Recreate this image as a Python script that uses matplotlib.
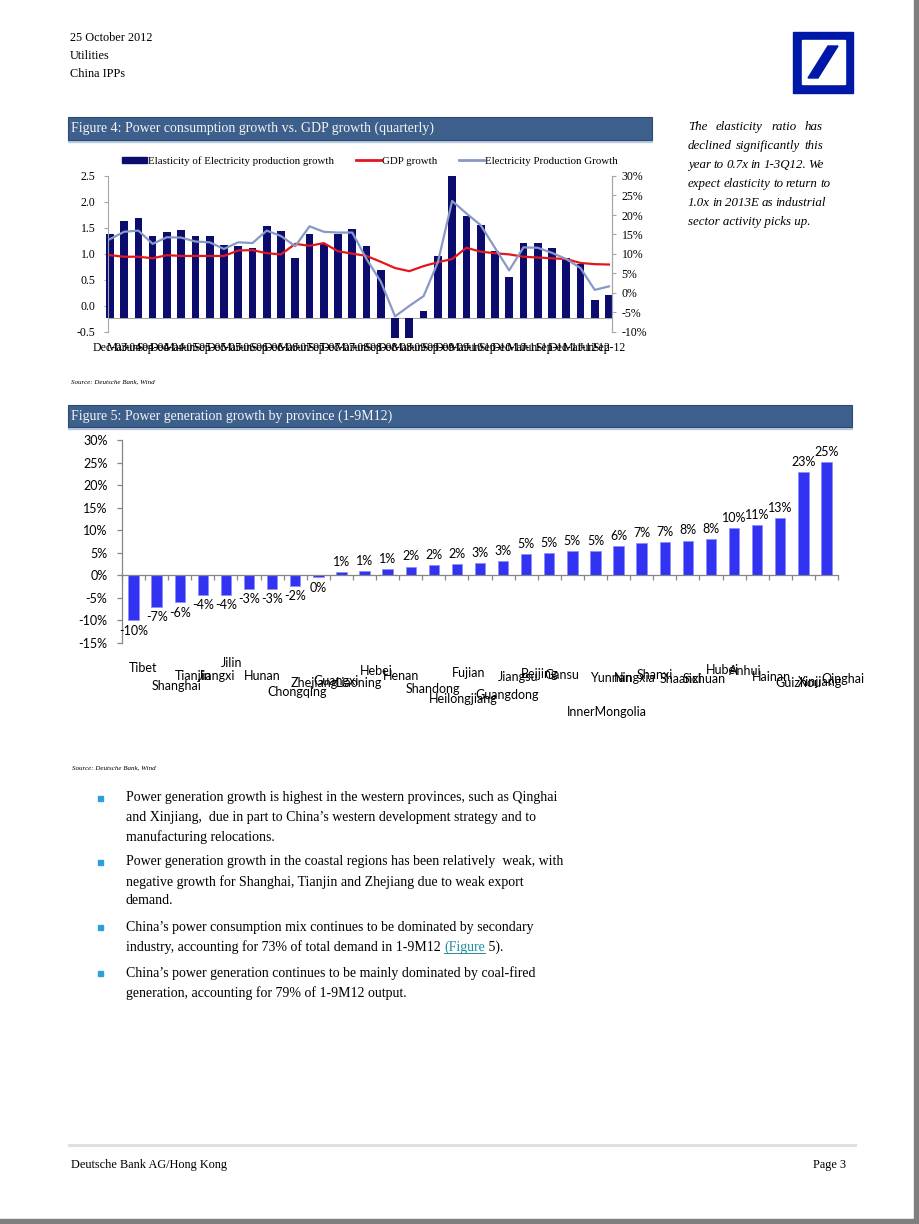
import matplotlib
matplotlib.use('Agg')
import matplotlib.pyplot as plt
from matplotlib.patches import Rectangle, Polygon
from matplotlib.lines import Line2D
import numpy as np

# ---------------- Figure 4 data (quarterly) ----------------
quarters = ['Dec-03', 'Mar-04', 'Jun-04', 'Sep-04', 'Dec-04', 'Mar-05', 'Jun-05', 'Sep-05',
            'Dec-05', 'Mar-06', 'Jun-06', 'Sep-06', 'Dec-06', 'Mar-07', 'Jun-07', 'Sep-07',
            'Dec-07', 'Mar-08', 'Jun-08', 'Sep-08', 'Dec-08', 'Mar-09', 'Jun-09', 'Sep-09',
            'Dec-09', 'Mar-10', 'Jun-10', 'Sep-10', 'Dec-10', 'Mar-11', 'Jun-11', 'Sep-11',
            'Dec-11', 'Mar-12', 'Jun-12', 'Sep-12']
elasticity = [1.39, 1.63, 1.69, 1.34, 1.42, 1.47, 1.35, 1.35, 1.17, 1.15, 1.12, 1.53,
              1.45, 0.92, 1.38, 1.20, 1.39, 1.49, 1.15, 0.70, -0.62, -0.62, -0.10, 0.96,
              2.50, 1.74, 1.56, 1.06, 0.56, 1.22, 1.22, 1.12, 0.92, 0.80, 0.11, 0.22]
gdp_growth = [9.7, 9.3, 9.3, 8.9, 9.7, 9.5, 9.5, 9.5, 9.5, 10.9, 11.0, 10.2,
              9.9, 12.6, 12.1, 12.8, 10.7, 10.1, 9.5, 8.0, 6.4, 5.6, 6.9, 7.9,
              8.7, 11.6, 10.6, 10.2, 9.9, 9.3, 9.1, 8.9, 8.7, 7.7, 7.4, 7.3]
elec_growth = [13.8, 15.7, 16.0, 12.6, 14.3, 14.2, 13.2, 13.0, 11.3, 13.0, 12.8, 16.0,
               14.6, 12.0, 17.1, 15.7, 15.5, 15.5, 8.7, 2.9, -6.0, -3.3, -0.8, 7.9,
               23.6, 20.4, 17.4, 11.6, 5.8, 11.7, 11.6, 10.3, 8.7, 6.4, 0.8, 1.7]
bar_base = -0.24  # where the category axis crosses the left scale

# ---------------- Figure 5 data (1-9M12) ----------------
provinces = ['Tibet', 'Shanghai', 'Tianjin', 'Jiangxi', 'Jilin', 'Hunan', 'Chongqing',
             'Zhejiang', 'Guangxi', 'Liaoning', 'Hebei', 'Henan', 'Shandong', 'Heilongjiang',
             'Fujian', 'Guangdong', 'Jiangsu', 'Beijing', 'Gansu', 'InnerMongolia', 'Yunnan',
             'Ningxia', 'Shanxi', 'Shaanxi', 'Sichuan', 'Hubei', 'Anhui', 'Hainan',
             'Guizhou', 'Xinjiang', 'Qinghai']
gen_growth = [-10.0, -7.0, -6.0, -4.4, -4.4, -3.0, -3.0, -2.4, -0.45, 0.7, 1.0, 1.3,
              1.95, 2.25, 2.45, 2.8, 3.1, 4.65, 5.0, 5.3, 5.45, 6.4, 7.1, 7.4,
              7.7, 8.1, 10.4, 11.1, 12.7, 22.9, 25.1]
# staggered label drop (px below the plot) as Excel laid them out
label_drop = [25, 43, 33, 33, 20, 33, 49, 40, 38, 40, 28, 33, 46, 56, 30, 52, 34, 31,
              32, 69, 35, 35, 32, 36, 36, 27, 28, 34, 40, 39, 36]

header = ['25 October 2012', 'Utilities', 'China IPPs']
sidebar = ['The elasticity ratio has', 'declined significantly this',
           'year to 0.7x in 1-3Q12. We', 'expect elasticity to return to',
           '1.0x in 2013E as industrial', 'sector activity picks up.']
bullets = [
    ['Power generation growth is highest in the western provinces, such as Qinghai',
     'and Xinjiang,  due in part to China\u2019s western development strategy and to',
     'manufacturing relocations.'],
    ['Power generation growth in the coastal regions has been relatively  weak, with',
     'negative growth for Shanghai, Tianjin and Zhejiang due to weak export',
     'demand.'],
    ['China\u2019s power consumption mix continues to be dominated by secondary',
     'industry, accounting for 73% of total demand in 1-9M12 '],
    ['China\u2019s power generation continues to be mainly dominated by coal-fired',
     'generation, accounting for 79% of 1-9M12 output.'],
]

W, H = 920, 1224
SERIF = 'Liberation Serif'
SANS = 'Lato'


def fx(x):
    return x / W


def fy(y):
    return 1 - y / H


def box(x0, y0, x1, y1):
    return [fx(x0), fy(y1), fx(x1) - fx(x0), fy(y0) - fy(y1)]


fig = plt.figure(figsize=(9.2, 12.24), dpi=100, facecolor='white')
renderer = fig.canvas.get_renderer()

# page frame shadow
fig.patches.append(Rectangle((fx(914), 0), 1 - fx(914), 1, transform=fig.transFigure,
                             color='#7f7f7f', zorder=0))
fig.patches.append(Rectangle((0, 0), 1, fy(1219), transform=fig.transFigure,
                             color='#7f7f7f', zorder=0))

# header
for i, t in enumerate(header):
    fig.text(fx(70), fy(38 + 18 * i), t, family=SERIF, fontsize=8.8, va='center')

# logo
fig.patches.append(Rectangle((fx(793), fy(93)), fx(60), fy(32) - fy(93),
                             transform=fig.transFigure, color='#0018a8'))
fig.patches.append(Rectangle((fx(802), fy(84)), fx(43), fy(40) - fy(84),
                             transform=fig.transFigure, color='white'))
fig.patches.append(Polygon([(fx(808), fy(78)), (fx(818), fy(78)), (fx(838), fy(46)),
                            (fx(828), fy(46))], closed=True, transform=fig.transFigure,
                           color='#0018a8'))


def title_bar(x0, y0, x1, y1, text):
    fig.patches.append(Rectangle((fx(x0), fy(y1 + 2)), fx(x1) - fx(x0), fy(y1) - fy(y1 + 2),
                                 transform=fig.transFigure, color='#b9c9df'))
    fig.patches.append(Rectangle((fx(x0), fy(y1)), fx(x1) - fx(x0), fy(y0) - fy(y1),
                                 transform=fig.transFigure, facecolor='#3d5f8c',
                                 edgecolor='#2c4a72', lw=0.8))
    fig.text(fx(x0 + 3), fy((y0 + y1) / 2), text, family=SERIF, fontsize=10,
             color='#f4f4f4', va='center')


# ---------------- Figure 4 ----------------
title_bar(68, 117, 652, 140, 'Figure 4: Power consumption growth vs. GDP growth (quarterly)')

ax4 = fig.add_axes(box(108, 176, 612, 332))
ax4.patch.set_alpha(0)
x4 = np.arange(len(quarters))
ax4.bar(x4, np.array(elasticity) - bar_base, bottom=bar_base, width=0.54,
        color='#0c0c6e', clip_on=False, zorder=2)
ax4.axhline(bar_base, color='#a6a6a6', lw=0.8, zorder=1)
ax4.set_ylim(-0.5, 2.5)
ax4.set_xlim(-0.13, len(quarters) - 0.79)
ax4.set_yticks(np.arange(-0.5, 2.51, 0.5))
ax4.set_yticklabels([f'{v:.1f}' for v in np.arange(-0.5, 2.51, 0.5)])
ax4.set_xticks(x4)
ax4.set_xticklabels(quarters)
for s in ['top', 'bottom']:
    ax4.spines[s].set_visible(False)
for s in ['left', 'right']:
    ax4.spines[s].set_color('#a6a6a6')
    ax4.spines[s].set_linewidth(0.8)
ax4.tick_params(axis='y', length=3, color='#a6a6a6', pad=6, labelsize=8.5)
ax4.tick_params(axis='x', length=0, pad=7, labelsize=8.5)
for lab in ax4.get_xticklabels() + ax4.get_yticklabels():
    lab.set_family(SERIF)

ax4r = ax4.twinx()
ax4r.patch.set_alpha(0)
ax4r.plot(x4, gdp_growth, color='#e2171d', lw=1.6, zorder=3)
ax4r.plot(x4, elec_growth, color='#8898c8', lw=1.6, zorder=3)
ax4r.set_ylim(-10, 30)
ax4r.set_yticks(range(-10, 31, 5))
ax4r.set_yticklabels([f'{v}%' for v in range(-10, 31, 5)])
for s in ['top', 'bottom', 'left']:
    ax4r.spines[s].set_visible(False)
ax4r.spines['right'].set_color('#a6a6a6')
ax4r.spines['right'].set_linewidth(0.8)
ax4r.tick_params(axis='y', length=3, color='#a6a6a6', pad=4, labelsize=8.5)
for lab in ax4r.get_yticklabels():
    lab.set_family(SERIF)

handles = [Rectangle((0, 0), 1, 1, color='#0c0c6e'),
           Line2D([], [], color='#e2171d', lw=2),
           Line2D([], [], color='#8898c8', lw=2)]
ax4.legend(handles, ['Elasticity of Electricity production growth', 'GDP growth',
                     'Electricity Production Growth'],
           loc='center', bbox_to_anchor=(0.52, 1.096), ncol=3, frameon=False,
           prop={'family': SERIF, 'size': 7.8}, handlelength=2.3, handleheight=0.6,
           handletextpad=0.1, columnspacing=2.0, borderaxespad=0)

fig.text(fx(71), fy(382), 'Source: Deutsche Bank, Wind', family=SERIF, style='italic',
         fontsize=5, va='center')

# ---------------- Figure 5 ----------------
title_bar(68, 405, 852, 427, 'Figure 5: Power generation growth by province (1-9M12)')

ax5 = fig.add_axes(box(122, 440, 838, 643))
ax5.patch.set_alpha(0)
x5 = np.arange(len(provinces))
ax5.bar(x5, gen_growth, width=0.45, color='#3232f2', edgecolor='#8c8cff', lw=0.5, zorder=2)
ax5.set_ylim(-15, 30)
ax5.set_xlim(-0.5, len(provinces) - 0.5)
ax5.set_yticks(range(-15, 31, 5))
ax5.set_yticklabels([f'{v}%' for v in range(-15, 31, 5)])
ax5.set_xticks(np.arange(-0.5, len(provinces), 1))
ax5.set_xticklabels([])
ax5.spines['top'].set_visible(False)
ax5.spines['right'].set_visible(False)
ax5.spines['bottom'].set_position(('data', 0))
for s in ['left', 'bottom']:
    ax5.spines[s].set_color('#868686')
    ax5.spines[s].set_linewidth(0.9)
ax5.tick_params(axis='both', length=3.5, color='#868686', width=0.9)
ax5.tick_params(axis='y', pad=7, labelsize=9)
for lab in ax5.get_yticklabels():
    lab.set_family(SANS)

for i, v in enumerate(gen_growth):
    ax5.annotate(f'{int(round(v))}%', xy=(i, v), xytext=(0, 3 if v >= 0 else -3),
                 textcoords='offset points', ha='center',
                 va='bottom' if v >= 0 else 'top', family=SANS, fontsize=9)
for i, name in enumerate(provinces):
    ax5.annotate(name, xy=(i - 0.22, 0), xycoords=('data', 'axes fraction'),
                 xytext=(0, -label_drop[i] * 0.72), textcoords='offset points',
                 ha='left', va='center', family=SANS, fontsize=9)

fig.text(fx(72), fy(768), 'Source: Deutsche Bank, Wind', family=SERIF, style='italic',
         fontsize=5, va='center')

# ---------------- sidebar (justified) ----------------
side_x0, side_x1 = 688, 823
for i, t in enumerate(sidebar):
    y = fy(127 + 19 * i)
    words = t.split()
    if i == len(sidebar) - 1:
        fig.text(fx(side_x0), y, t, family=SERIF, style='italic', fontsize=9.3, va='center')
        continue
    arts = [fig.text(0, y, w, family=SERIF, style='italic', fontsize=9.3, va='center')
            for w in words]
    widths = [a.get_window_extent(renderer=renderer).width for a in arts]
    gap = max(2.5, (side_x1 - side_x0 - sum(widths)) / (len(words) - 1))
    pos = side_x0
    for a, wd in zip(arts, widths):
        a.set_x(fx(pos))
        pos += wd + gap

# ---------------- bullets ----------------
rows = [[798, 818, 837], [862, 882, 901], [927, 947], [973, 993]]
for lines, ys in zip(bullets, rows):
    fig.patches.append(Rectangle((fx(98), fy(ys[0] + 3)), fx(5), fy(ys[0] - 2) - fy(ys[0] + 3),
                                 transform=fig.transFigure, color='#2f9fdc'))
    for t, y in zip(lines, ys):
        txt = fig.text(fx(126), fy(y), t, family=SERIF, fontsize=10, va='center')
    if lines[-1].endswith('1-9M12 '):
        bb = txt.get_window_extent(renderer=renderer)
        link = fig.text(bb.x1 / fig.bbox.width, fy(ys[-1]), '(Figure', family=SERIF,
                        fontsize=10, va='center', color='#1d8c9c')
        lb = link.get_window_extent(renderer=renderer)
        fig.lines.append(Line2D([lb.x0 / fig.bbox.width, lb.x1 / fig.bbox.width],
                                [fy(ys[-1] + 6)] * 2, transform=fig.transFigure,
                                color='#1d8c9c', lw=0.7))
        fig.text(lb.x1 / fig.bbox.width, fy(ys[-1]), ' 5).', family=SERIF, fontsize=10,
                 va='center')

# ---------------- footer ----------------
fig.lines.append(Line2D([fx(69), fx(855)], [fy(1145)] * 2, transform=fig.transFigure,
                        color='#e0e0e0', lw=2.2))
fig.text(fx(71), fy(1165), 'Deutsche Bank AG/Hong Kong', family=SERIF, fontsize=8.8,
         va='center')
fig.text(fx(846), fy(1165), 'Page 3', family=SERIF, fontsize=8.8, va='center', ha='right')

fig.savefig('out.png', dpi=100)
